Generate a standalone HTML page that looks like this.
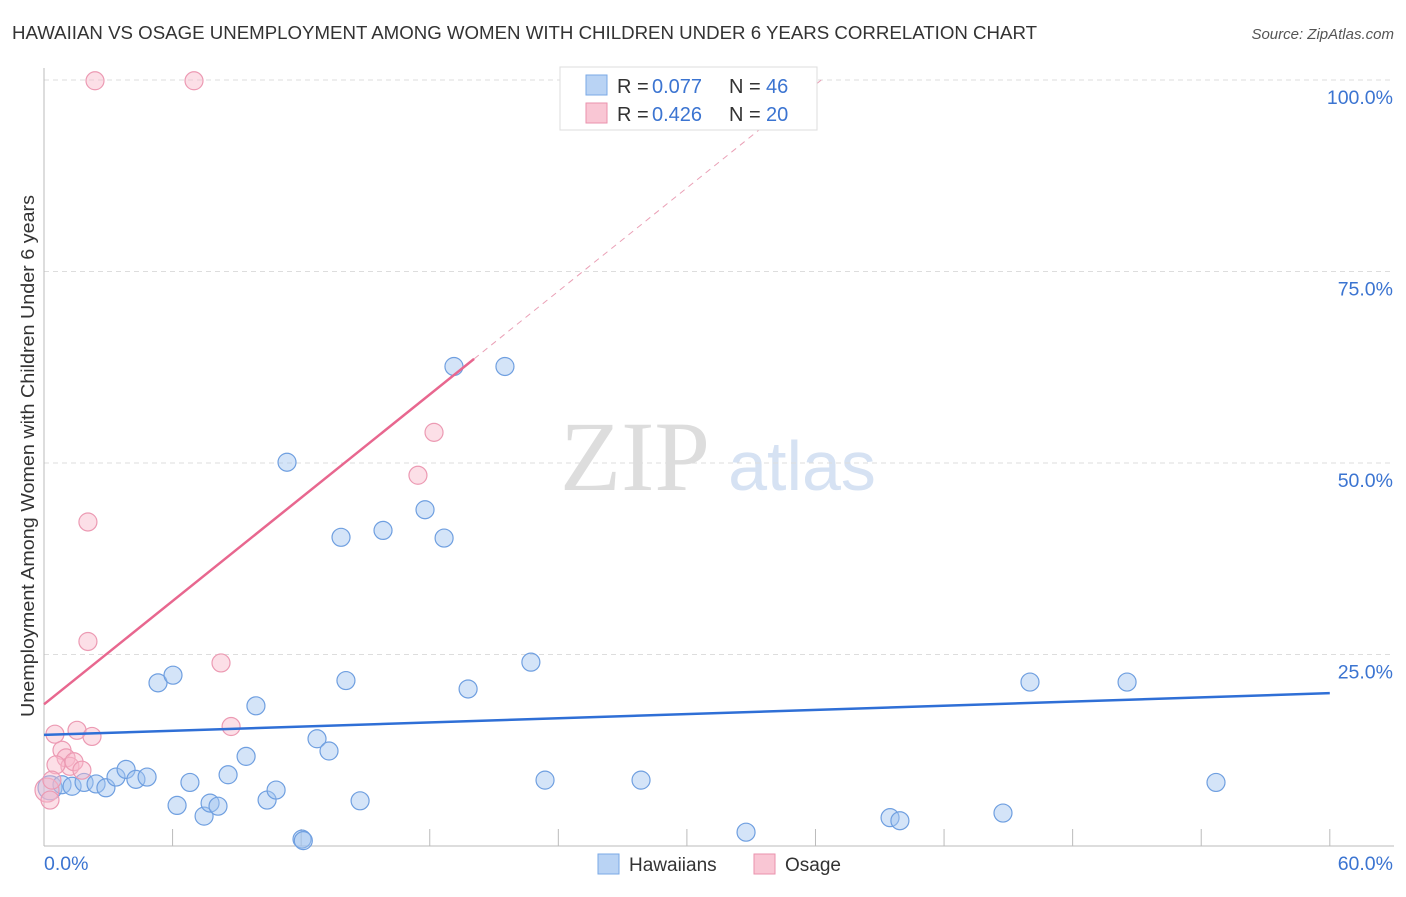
<!DOCTYPE html>
<html><head><meta charset="utf-8"><style>
body{margin:0;background:#fff;font-family:"Liberation Sans",sans-serif;}
</style></head><body>
<svg id="chart" width="1406" height="892" font-family="Liberation Sans, sans-serif">
<text x="12" y="39" font-size="18" fill="#333" textLength="1025" lengthAdjust="spacingAndGlyphs">HAWAIIAN VS OSAGE UNEMPLOYMENT AMONG WOMEN WITH CHILDREN UNDER 6 YEARS CORRELATION CHART</text>
<text x="1394" y="39" font-size="15" fill="#555" font-style="italic" text-anchor="end">Source: ZipAtlas.com</text>
<text x="635" y="490" font-size="100" fill="#ddd" font-family="Liberation Serif, serif" text-anchor="middle">ZIP</text>
<text x="802" y="490" font-size="70" fill="#d6e2f3" text-anchor="middle">atlas</text>
<text transform="translate(34,456) rotate(-90)" font-size="18" fill="#333" text-anchor="middle" textLength="522" lengthAdjust="spacingAndGlyphs">Unemployment Among Women with Children Under 6 years</text>
<g id="grid"></g><g id="marks"></g>
<g>
<rect x="560" y="67" width="257" height="63" fill="#fff" stroke="#ddd"/>
<rect x="586" y="75" width="21" height="20" fill="#b9d3f4" stroke="#7aa8e6"/>
<rect x="586" y="103" width="21" height="20" fill="#f9c6d4" stroke="#ea92ad"/>
<text x="617" y="93" font-size="20" fill="#333">R = </text>
<text x="652" y="93" font-size="20" fill="#3b74d1">0.077</text>
<text x="729" y="93" font-size="20" fill="#333">N = </text>
<text x="766" y="93" font-size="20" fill="#3b74d1">46</text>
<text x="617" y="121" font-size="20" fill="#333">R = </text>
<text x="652" y="121" font-size="20" fill="#3b74d1">0.426</text>
<text x="729" y="121" font-size="20" fill="#333">N = </text>
<text x="766" y="121" font-size="20" fill="#3b74d1">20</text>
</g>
<g>
<rect x="598" y="854" width="21" height="20" fill="#b9d3f4" stroke="#7aa8e6"/>
<text x="629" y="871" font-size="19" fill="#333">Hawaiians</text>
<rect x="754" y="854" width="21" height="20" fill="#f9c6d4" stroke="#ea92ad"/>
<text x="785" y="871" font-size="19" fill="#333">Osage</text>
</g>
</svg>
<script>
const blueX=[0.28,0.84,1.31,1.87,2.43,2.89,3.36,3.83,4.29,4.81,5.32,6.02,6.21,6.81,7.47,7.75,8.12,8.59,9.43,9.89,10.41,10.83,11.34,12.04,12.1,12.74,13.30,13.86,14.09,14.75,15.82,17.78,18.67,19.13,19.79,21.51,22.72,23.38,27.86,32.76,39.48,39.94,44.75,46.01,50.54,54.69];
const blueY=[7.6,8.0,7.8,8.3,8.1,7.6,9.0,10.0,8.7,9.0,21.3,22.3,5.3,8.3,3.9,5.6,5.2,9.3,11.7,18.3,6.0,7.3,50.1,0.9,0.7,14.0,12.4,40.3,21.6,5.9,41.2,43.9,40.2,62.6,20.5,62.6,24.0,8.6,8.6,1.8,3.7,3.3,4.3,21.4,21.4,8.3];
const pinkX=[2.38,7.0,0.14,0.51,0.84,1.03,1.21,1.40,1.54,1.77,2.05,2.05,2.24,8.26,8.73,17.45,18.2,0.56,0.37,0.28];
const pinkY=[99.9,99.9,7.3,14.6,12.5,11.5,10.4,11.0,15.1,9.9,42.3,26.7,14.3,23.9,15.6,48.4,54.0,10.6,8.6,6.0];
const yTicks=[25,50,75,100];
const yTickLabels=["25.0%","50.0%","75.0%","100.0%"];
const xTicks=[6,12,18,24,30,36,42,48,54,60];
const blueTrend=[14.5,19.95];
const pinkTrend=[18.5,2.247];
const NS='http://www.w3.org/2000/svg';
const X=v=>44+v*21.43, Y=v=>846-v*7.66;
const grid=document.getElementById('grid'), marks=document.getElementById('marks');
function mk(p,tag,a){const e=document.createElementNS(NS,tag);for(const k in a)e.setAttribute(k,a[k]);p.appendChild(e);return e;}
yTicks.forEach((t,i)=>{
 const l=mk(grid,'line',{x1:44,x2:1394,y1:Y(t),y2:Y(t),stroke:'#ddd','stroke-dasharray':'5,4'});
 
 
 const tx=mk(grid,'text',{x:1393,y:Y(t)+24,'font-size':19.5,fill:'#3b74d1','text-anchor':'end'});
 tx.textContent=yTickLabels[i];
 
 
});
mk(grid,'line',{x1:44,x2:1394,y1:846,y2:846,stroke:'#bbb'});
mk(grid,'line',{x1:44,x2:44,y1:68,y2:846,stroke:'#bbb'});
xTicks.forEach(t=>{
 const l=mk(grid,'line',{x1:X(t),x2:X(t),y1:829,y2:846,stroke:'#bbb'});
 
 
});
const x0=mk(grid,'text',{x:44,y:870,'font-size':19.5,fill:'#3b74d1'});x0.textContent='0.0%';


const x1=mk(grid,'text',{x:1393,y:870,'font-size':19.5,fill:'#3b74d1','text-anchor':'end'});x1.textContent='60.0%';


blueX.forEach((v,i)=>{
 const c=mk(marks,'circle',{cx:X(v),cy:Y(blueY[i]),r:i==0?12:9,fill:'rgba(160,196,240,0.45)',stroke:'#6f9fe0','stroke-width':1.2});
 
 
});
pinkX.forEach((v,i)=>{
 const c=mk(marks,'circle',{cx:X(v),cy:Y(pinkY[i]),r:i==2?12:9,fill:'rgba(248,184,202,0.45)',stroke:'#ec9ab3','stroke-width':1.2});
 
 
});
const bl=mk(marks,'line',{x1:X(0),y1:Y(blueTrend[0]),x2:X(60),y2:Y(blueTrend[1]),stroke:'#2f6fd6','stroke-width':2.5});


const xe=20.07, xd=(100-pinkTrend[0])/pinkTrend[1];
const pl=mk(marks,'line',{x1:X(0),y1:Y(pinkTrend[0]),x2:X(xe),y2:Y(pinkTrend[0]+pinkTrend[1]*xe),stroke:'#e8678f','stroke-width':2.5});


const pd=mk(marks,'line',{x1:X(xe),y1:Y(pinkTrend[0]+pinkTrend[1]*xe),x2:X(xd),y2:Y(100),stroke:'#eaa0b6','stroke-width':1,'stroke-dasharray':'6,5'});


</script>
</body></html>
